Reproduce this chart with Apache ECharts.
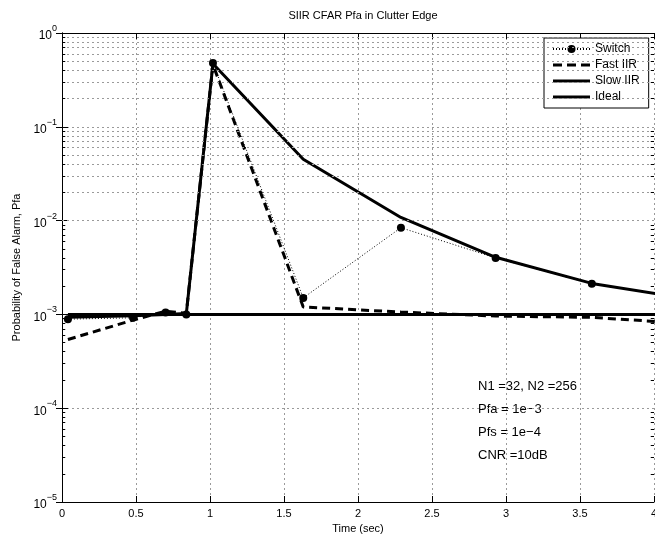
<!DOCTYPE html>
<html>
<head>
<meta charset="utf-8">
<script src="https://cdn.jsdelivr.net/npm/echarts@6/dist/echarts.min.js"></script>
<style>
html,body{margin:0;padding:0;background:#fff;}
#chart{width:655px;height:540px;}
</style>
</head>
<body>
<div id="chart"></div>
<script>
// ---- data ----
const times = [0.04, 0.48, 0.70, 0.84, 1.02, 1.63, 2.29, 2.93, 3.58, 4.22];
const switchPfa = [8.9e-4, 9.2e-4, 1.05e-3, 1.0e-3, 0.48, 1.5e-3, 8.4e-3, 4.0e-3, 2.12e-3, 1.47e-3];
const fastPfa   = [5.4e-4, 8.7e-4, 1.08e-3, 1.03e-3, 0.46, 1.2e-3, 1.06e-3, 9.6e-4, 9.3e-4, 8.0e-4];
const slowPfa   = [9.3e-4, 9.7e-4, 1.0e-3, 1.02e-3, 0.47, 0.045, 0.0108, 4.06e-3, 2.14e-3, 1.48e-3];
const idealPfa  = [1e-3, 1e-3, 1e-3, 1e-3, 1e-3, 1e-3, 1e-3, 1e-3, 1e-3, 1e-3];
const seriesNames = ['Switch', 'Fast IIR', 'Slow IIR', 'Ideal'];
const xTicks = [0, 0.5, 1, 1.5, 2, 2.5, 3, 3.5, 4];
const yMin = 1e-5, yMax = 1;
const annotations = ['N1 =32, N2 =256', 'Pfa = 1e\u22123', 'Pfs = 1e\u22124', 'CNR =10dB'];

const FONT = '"Liberation Sans", Arial, Helvetica, sans-serif';
const pair = (a, b) => a.map((v, i) => [v, b[i]]);

// minor log grid values 2..9 x 10^k
const minorVals = [];
for (let k = -5; k < 0; k++) for (let m = 2; m <= 9; m++) minorVals.push(m * Math.pow(10, k));

const minorGrid = minorVals.map(v => ({ yAxis: v }));
const minorTicks = [];
minorVals.forEach(v => {
  minorTicks.push([{ coord: [0, v] }, { coord: [0.022, v] }]);
  minorTicks.push([{ coord: [4, v] }, { coord: [3.978, v] }]);
});

const ICON_SOLID = 'path://M0,0h37v3h-37z';
const ICON_DASH = 'path://M0,0h9v3h-9zM14,0h9v3h-9zM28,0h9v3h-9z';

const chart = echarts.init(document.getElementById('chart'), null, { renderer: 'canvas' });
const gridLine = { show: true, lineStyle: { color: '#9a9a9a', width: 1, type: [2, 3] } };

chart.setOption({
  animation: false,
  backgroundColor: '#fff',
  textStyle: { fontFamily: FONT },
  title: {
    text: 'SIIR CFAR Pfa in Clutter Edge',
    left: 358, top: 5, textAlign: 'center',
    textStyle: { fontFamily: FONT, fontSize: 11, fontWeight: 'normal', color: '#000' }
  },
  grid: { left: 62, right: 1, top: 33, bottom: 38, containLabel: false, outerBoundsMode: 'none' },
  legend: {
    data: [
      { name: 'Switch' },
      { name: 'Fast IIR', icon: ICON_DASH },
      { name: 'Slow IIR', icon: ICON_SOLID },
      { name: 'Ideal', icon: ICON_SOLID }
    ],
    orient: 'vertical',
    left: 544, top: 38,
    padding: [5, 9, 5, 8],
    itemGap: 4,
    itemWidth: 37, itemHeight: 10,
    backgroundColor: '#fff',
    borderColor: '#000', borderWidth: 1,
    textStyle: { fontFamily: FONT, fontSize: 12, color: '#000' },
    selectedMode: false
  },
  xAxis: [{
    type: 'value', min: 0, max: 4, interval: 0.5,
    name: 'Time (sec)', nameLocation: 'middle', nameGap: 21,
    nameTextStyle: { fontFamily: FONT, fontSize: 11, color: '#000' },
    axisLine: { show: true, lineStyle: { color: '#000', width: 1 } },
    axisTick: { show: true, inside: true, length: 6, lineStyle: { color: '#000' } },
    axisLabel: { show: true, color: '#000', fontSize: 11, fontFamily: FONT, margin: 6,
      formatter: v => String(v) },
    splitLine: gridLine
  }, {
    type: 'value', min: 0, max: 4, interval: 0.5, position: 'top',
    axisLine: { show: true, onZero: false, lineStyle: { color: '#000', width: 1 } },
    axisTick: { show: true, inside: true, length: 6, lineStyle: { color: '#000' } },
    axisLabel: { show: false }, splitLine: { show: false }
  }],
  yAxis: [{
    type: 'log', logBase: 10, min: yMin, max: yMax,
    name: 'Probability of False Alarm, Pfa', nameLocation: 'middle', nameGap: 37,
    nameTextStyle: { fontFamily: FONT, fontSize: 11, color: '#000' },
    axisLine: { show: true, lineStyle: { color: '#000', width: 1 } },
    axisTick: { show: true, inside: true, length: 6, lineStyle: { color: '#000' } },
    axisLabel: {
      show: true, margin: 5,
      formatter: v => {
        const e = Math.round(Math.log10(v));
        return '{b|10}{s|' + (e < 0 ? '\u2212' + (-e) : e) + '}';
      },
      rich: {
        b: { fontSize: 12, fontFamily: FONT, color: '#000', verticalAlign: 'bottom', lineHeight: 18 },
        s: { fontSize: 9, fontFamily: FONT, color: '#000', verticalAlign: 'top', lineHeight: 18 }
      }
    },
    splitLine: gridLine
  }, {
    type: 'log', logBase: 10, min: yMin, max: yMax, position: 'right',
    axisLine: { show: true, lineStyle: { color: '#000', width: 1 } },
    axisTick: { show: true, inside: true, length: 6, lineStyle: { color: '#000' } },
    axisLabel: { show: false }, splitLine: { show: false }
  }],
  graphic: annotations.map((t, i) => ({
    type: 'text', left: 478, top: 380 + i * 23, silent: true,
    style: { text: t, fontFamily: FONT, fontSize: 13, fill: '#000' }
  })),
  series: [
    {
      name: 'Slow IIR', type: 'line', data: pair(times, slowPfa),
      symbol: 'none', clip: true, z: 3,
      lineStyle: { color: '#000', width: 3, type: 'solid' },
      itemStyle: { color: '#000' },
      markLine: {
        silent: true, symbol: ['none', 'none'], label: { show: false },
        lineStyle: { color: '#9a9a9a', width: 1, type: [2, 3] },
        emphasis: { disabled: true },
        data: minorGrid
      }
    },
    {
      name: 'Ideal', type: 'line', data: pair(times, idealPfa),
      symbol: 'none', clip: true, z: 3,
      lineStyle: { color: '#000', width: 3, type: 'solid' },
      itemStyle: { color: '#000' },
      markLine: {
        silent: true, symbol: ['none', 'none'], label: { show: false },
        lineStyle: { color: '#000', width: 1, type: 'solid' },
        emphasis: { disabled: true },
        data: minorTicks
      }
    },
    {
      name: 'Fast IIR', type: 'line', data: pair(times, fastPfa),
      symbol: 'none', clip: true, z: 4,
      lineStyle: { color: '#000', width: 3, type: [8, 5] },
      itemStyle: { color: '#000' }
    },
    {
      name: 'Switch', type: 'line', data: pair(times, switchPfa),
      symbol: 'circle', symbolSize: 8, showAllSymbol: true, clip: true, z: 5,
      lineStyle: { color: '#000', width: 1, type: [1, 2] },
      itemStyle: { color: '#000' }
    }
  ]
});
</script>
</body>
</html>
